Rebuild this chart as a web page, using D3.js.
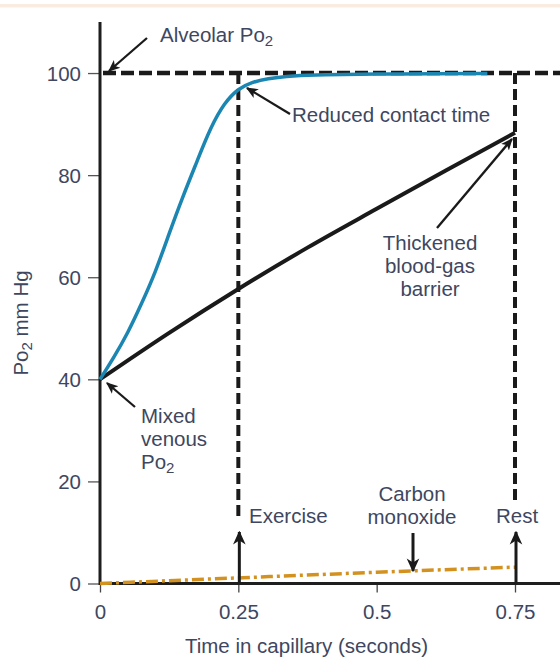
<!DOCTYPE html>
<html>
<head>
<meta charset="utf-8">
<script src="https://cdn.jsdelivr.net/npm/d3@7/dist/d3.min.js"></script>
<style>
  html, body { margin: 0; padding: 0; background: #fff; }
  svg { display: block; }
  text { font-family: "Liberation Sans", Arial, Helvetica, sans-serif; fill: #3e475f; }
</style>
</head>
<body>
<svg id="chart" width="560" height="663"></svg>
<script>
// Time in capillary (seconds) and PO2 (mm Hg) for each curve
const normalTime = [0, 0.025, 0.05, 0.075, 0.1, 0.125, 0.15, 0.175, 0.2, 0.225, 0.25, 0.275, 0.3, 0.35, 0.4, 0.5, 0.6, 0.7];
const normalPO2  = [40, 44.3, 49.0, 54.8, 60.9, 68.6, 75.9, 82.6, 89.4, 94.2, 97.0, 98.2, 98.9, 99.5, 99.7, 99.8, 99.9, 99.9];

const barrierTime = [0, 0.125, 0.25, 0.375, 0.5, 0.625, 0.75];
const barrierPO2  = [40, 49.1, 57.7, 65.8, 73.4, 80.9, 88.3];

const coTime = [0, 0.25, 0.5, 0.75];
const coPO2  = [0, 1.1, 2.2, 3.2];

const alveolarPO2 = 100;
const exerciseTime = 0.25;
const restTime = 0.75;

const xTicks = [0, 0.25, 0.5, 0.75];
const xTickLabels = ["0", "0.25", "0.5", "0.75"];
const yTicks = [0, 20, 40, 60, 80, 100];

const FS = 20.5;
const svg = d3.select("#chart");
const W = 560;

const x = d3.scaleLinear().domain([0, 0.75]).range([100, 515]);
const y = d3.scaleLinear().domain([0, 110]).range([583.5, 22]);

// faint band along the top edge
svg.append("rect").attr("x", 0).attr("y", 4).attr("width", W).attr("height", 3.5).attr("fill", "#fbece2");

// arrowhead markers
const defs = svg.append("defs");
defs.append("marker")
  .attr("id", "head")
  .attr("viewBox", "0 0 10 10")
  .attr("refX", 9).attr("refY", 5)
  .attr("markerWidth", 12).attr("markerHeight", 12)
  .attr("markerUnits", "userSpaceOnUse")
  .attr("orient", "auto")
  .append("path").attr("d", "M0,0.8 L10,5 L0,9.2 L2.5,5 Z").attr("fill", "#1a1a1a");
defs.append("marker")
  .attr("id", "headBig")
  .attr("viewBox", "0 0 10 10")
  .attr("refX", 9).attr("refY", 5)
  .attr("markerWidth", 14).attr("markerHeight", 14)
  .attr("markerUnits", "userSpaceOnUse")
  .attr("orient", "auto")
  .append("path").attr("d", "M0,0.5 L10,5 L0,9.5 L3,5 Z").attr("fill", "#1a1a1a");

// axes
const yAxis = d3.axisLeft(y).tickValues(yTicks).tickSize(12).tickPadding(7);
const gy = svg.append("g").attr("transform", "translate(100,0)").call(yAxis);
gy.select(".domain").remove();
gy.selectAll(".tick line").attr("stroke", "#555").attr("stroke-width", 1.3);
gy.selectAll(".tick text").attr("font-size", FS).attr("fill", "#3e475f").attr("dy", "0.36em")
  .style("font-family", "Liberation Sans, Arial, sans-serif");

const xAxis = d3.axisBottom(x).tickValues(xTicks).tickFormat((d, i) => xTickLabels[i]).tickSize(9).tickPadding(12);
const gx = svg.append("g").attr("transform", `translate(0,${y(0)})`).call(xAxis);
gx.select(".domain").remove();
gx.selectAll(".tick line").attr("stroke", "#444").attr("stroke-width", 1.3);
gx.selectAll(".tick text").attr("font-size", FS).attr("fill", "#3e475f")
  .style("font-family", "Liberation Sans, Arial, sans-serif");

svg.append("line").attr("x1", 100).attr("x2", 100).attr("y1", y(110)).attr("y2", y(0) + 1.5)
  .attr("stroke", "#1e1e1e").attr("stroke-width", 3);
svg.append("line").attr("x1", 100).attr("x2", W).attr("y1", y(0)).attr("y2", y(0))
  .attr("stroke", "#1e1e1e").attr("stroke-width", 3);

// axis titles
svg.append("text").attr("x", x(0.375) - 1).attr("y", 653).attr("text-anchor", "middle")
  .attr("font-size", FS).text("Time in capillary (seconds)");

const yl = svg.append("text").attr("transform", "translate(28,323) rotate(-90)")
  .attr("text-anchor", "middle").attr("font-size", FS);
yl.append("tspan").text("Po");
yl.append("tspan").attr("font-size", 15).attr("dy", 4).text("2");
yl.append("tspan").attr("dy", -4).text(" mm Hg");

// reference lines: alveolar level, exercise and rest transit times
svg.append("line").attr("x1", 103).attr("x2", W).attr("y1", y(alveolarPO2)).attr("y2", y(alveolarPO2))
  .attr("stroke", "#1a1a1a").attr("stroke-width", 4.5).attr("stroke-dasharray", "13,5");
svg.append("line").attr("x1", x(exerciseTime)).attr("x2", x(exerciseTime)).attr("y1", y(alveolarPO2)).attr("y2", 520)
  .attr("stroke", "#1a1a1a").attr("stroke-width", 4).attr("stroke-dasharray", "11,5");
svg.append("line").attr("x1", x(restTime)).attr("x2", x(restTime)).attr("y1", y(alveolarPO2)).attr("y2", 504)
  .attr("stroke", "#1a1a1a").attr("stroke-width", 4).attr("stroke-dasharray", "11,5");

// curves
const line = d3.line().x(d => x(d[0])).y(d => y(d[1])).curve(d3.curveMonotoneX);
const smoothLine = d3.line().x(d => x(d[0])).y(d => y(d[1])).curve(d3.curveBasis);

svg.append("path").datum(coTime.map((t, i) => [t, coPO2[i]]))
  .attr("d", line).attr("fill", "none").attr("stroke", "#d39220").attr("stroke-width", 3.5)
  .attr("stroke-dasharray", "12,4,3,4");

svg.append("path").datum(barrierTime.map((t, i) => [t, barrierPO2[i]]))
  .attr("d", line).attr("fill", "none").attr("stroke", "#1a1a1a").attr("stroke-width", 4);

svg.append("path").datum(normalTime.map((t, i) => [t, normalPO2[i]]))
  .attr("d", smoothLine).attr("fill", "none").attr("stroke", "#1c86b2").attr("stroke-width", 3.5);

// annotation arrows
function arrow(x1, y1, x2, y2, big) {
  svg.append("line").attr("x1", x1).attr("y1", y1).attr("x2", x2).attr("y2", y2)
    .attr("stroke", "#1a1a1a").attr("stroke-width", big ? 3 : 2.3)
    .attr("marker-end", big ? "url(#headBig)" : "url(#head)");
}
arrow(147, 38, 109, 71);
arrow(290, 114, 247, 88);
arrow(135, 407, 107, 383);
arrow(437, 228, 512, 139);
arrow(x(exerciseTime) + 1, y(0), x(exerciseTime) + 1, 532, true);
arrow(x(restTime) + 1, y(0), x(restTime) + 1, 532, true);
arrow(413, 533, 413, 571, true);

// annotation labels
function label(tx, ty, lines, anchor) {
  const t = svg.append("text").attr("x", tx).attr("y", ty).attr("font-size", FS)
    .attr("text-anchor", anchor || "start");
  lines.forEach((ln, i) => {
    const sp = t.append("tspan").attr("x", tx).attr("dy", i === 0 ? 0 : 23);
    if (ln.endsWith("₂")) {
      sp.text(ln.slice(0, -1));
      t.append("tspan").attr("font-size", 15).attr("dy", 4).text("2");
    } else {
      sp.text(ln);
    }
  });
}
label(160, 42, ["Alveolar Po₂"]);
label(292, 122, ["Reduced contact time"]);
label(141, 423, ["Mixed", "venous", "Po₂"]);
label(430, 250, ["Thickened", "blood-gas", "barrier"], "middle");
label(249, 523, ["Exercise"]);
label(412, 501, ["Carbon", "monoxide"], "middle");
label(517, 523, ["Rest"], "middle");
</script>
</body>
</html>
